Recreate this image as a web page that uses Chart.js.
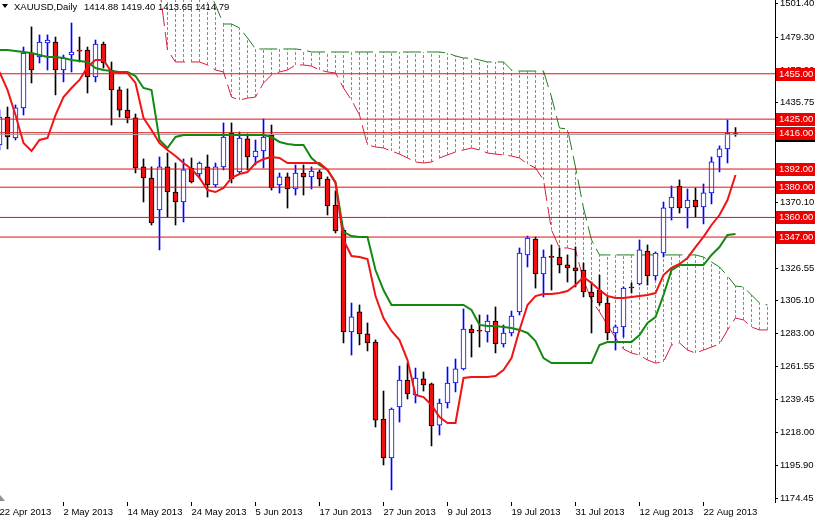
<!DOCTYPE html>
<html><head><meta charset="utf-8">
<script src="https://cdn.jsdelivr.net/npm/chart.js@4/dist/chart.umd.min.js"></script>
<style>html,body{margin:0;padding:0;background:#fff;overflow:hidden}</style>
</head><body>
<canvas id="c" width="815" height="518"></canvas>
<script>
const symbolTitle = 'XAUUSD,Daily';
const dateLabels = ['22 Apr 2013','2 May 2013','14 May 2013','24 May 2013','5 Jun 2013','17 Jun 2013','27 Jun 2013','9 Jul 2013','19 Jul 2013','31 Jul 2013','12 Aug 2013','22 Aug 2013'];
const dateLabelBars = [0,8,16,24,32,40,48,56,64,72,80,88];
const priceTicks = [1501.40,1479.30,1457.20,1435.75,1414.20,1392.10,1370.10,1348.00,1326.55,1305.10,1283.00,1261.55,1239.45,1218.00,1195.90,1174.45];
const levels = [1455,1425,1416,1392,1380,1360,1347];
const bidPrice = 1414.79;

const opens = [1407.9,1426.4,1412.5,1432.4,1468.7,1466.1,1475.4,1476.0,1457.5,1467.4,1470.3,1470.7,1452.9,1474.7,1457.5,1444.3,1431.0,1425.8,1393.4,1386.1,1364.9,1393.4,1376.8,1370.2,1392.7,1388.7,1393.4,1381.5,1393.4,1415.8,1390.1,1411.9,1400.0,1403.9,1414.5,1381.5,1386.8,1378.8,1389.4,1386.8,1390.1,1385.4,1368.2,1351.7,1284.3,1297.5,1283.0,1277.6,1226.7,1200.9,1234.7,1252.5,1242.6,1253.2,1249.9,1222.7,1237.3,1250.5,1259.8,1286.2,1284.9,1284.3,1291.5,1276.3,1283.6,1297.5,1335.2,1345.7,1322.6,1333.8,1333.8,1328.6,1326.6,1325.2,1310.7,1312.0,1303.4,1283.6,1287.6,1313.5,1316.0,1337.8,1321.3,1336.5,1366.3,1380.8,1366.3,1371.5,1366.9,1376.2,1400.0,1405.3,1414.88];
const highs = [1431.0,1433.0,1434.4,1472.7,1486.0,1480.7,1480.7,1479.3,1467.4,1488.6,1479.3,1472.7,1477.3,1476.0,1462.8,1446.3,1445.0,1428.4,1398.7,1393.4,1400.0,1402.6,1396.0,1398.7,1399.3,1396.7,1401.3,1396.0,1422.5,1422.5,1416.5,1415.2,1411.2,1425.1,1421.1,1389.4,1389.4,1394.7,1394.7,1393.4,1391.4,1386.8,1377.5,1353.0,1303.4,1302.1,1290.2,1279.0,1245.2,1234.0,1261.7,1263.7,1260.4,1257.8,1250.5,1239.9,1261.1,1266.4,1299.5,1288.9,1295.5,1295.5,1300.8,1288.9,1298.1,1339.8,1347.7,1347.1,1338.5,1341.8,1339.8,1335.2,1340.5,1329.9,1317.3,1321.9,1307.4,1288.9,1314.0,1316.7,1345.1,1341.8,1337.2,1370.2,1380.8,1384.8,1378.8,1379.5,1382.1,1400.0,1407.3,1424.4,1419.40];
const lows = [1404.6,1405.3,1411.2,1427.7,1448.9,1462.1,1457.5,1441.0,1449.6,1456.2,1462.8,1442.3,1449.6,1458.8,1421.1,1426.4,1422.5,1389.4,1370.2,1355.0,1338.5,1360.3,1355.0,1357.0,1382.8,1386.1,1373.5,1380.1,1391.4,1382.8,1389.4,1391.4,1394.7,1392.7,1378.1,1376.1,1366.2,1374.8,1374.8,1378.8,1380.8,1361.6,1349.7,1277.0,1269.0,1275.7,1271.7,1221.4,1196.3,1179.8,1224.7,1239.9,1237.3,1245.2,1208.9,1216.1,1234.0,1244.6,1259.1,1267.7,1274.3,1277.6,1270.4,1274.3,1281.6,1295.5,1327.2,1313.3,1307.4,1312.0,1323.3,1317.3,1314.0,1307.4,1283.6,1302.1,1279.0,1272.3,1280.9,1310.0,1315.3,1315.3,1318.6,1333.8,1358.3,1362.9,1353.0,1360.3,1355.7,1368.9,1390.1,1396.0,1413.65];
const closes = [1426.4,1413.2,1432.4,1468.7,1457.5,1476.0,1477.3,1457.5,1465.4,1469.4,1470.0,1452.9,1474.7,1462.1,1444.3,1431.0,1425.8,1392.7,1386.1,1356.3,1393.4,1376.8,1370.2,1391.4,1383.5,1396.0,1381.5,1393.4,1413.2,1385.4,1412.5,1400.0,1403.9,1413.2,1379.5,1386.8,1378.8,1389.4,1386.8,1390.7,1385.4,1367.6,1351.0,1284.3,1294.2,1283.0,1277.0,1226.0,1200.9,1233.3,1252.5,1243.3,1253.8,1249.2,1222.1,1237.3,1250.5,1259.8,1286.2,1283.6,1284.7,1291.5,1276.3,1283.6,1294.8,1336.5,1346.4,1322.6,1333.8,1333.6,1328.6,1326.6,1324.6,1310.7,1307.4,1303.4,1283.6,1287.6,1313.3,1313.3,1338.5,1321.3,1336.5,1366.3,1373.5,1366.3,1371.5,1366.9,1376.2,1396.7,1405.3,1415.8,1414.79];

const tenkan = [1456.2,1444.3,1427.7,1409.2,1403.9,1411.2,1412.5,1427.7,1439.6,1445.6,1450.9,1459.5,1464.1,1464.1,1456.2,1455.5,1455.5,1448.9,1425.8,1417.8,1409.2,1404.6,1400.6,1396.0,1392.0,1386.1,1378.1,1376.8,1379.5,1386.1,1388.7,1390.0,1396.0,1398.6,1400.0,1399.3,1396.0,1396.0,1396.0,1396.0,1396.0,1391.4,1382.8,1345.1,1334.5,1333.8,1332.5,1308.0,1293.5,1284.9,1278.9,1265.7,1242.6,1241.2,1236.0,1228.0,1224.1,1224.1,1253.8,1254.5,1254.5,1254.5,1255.1,1259.1,1267.0,1285.6,1302.1,1308.0,1309.4,1309.4,1310.0,1311.3,1315.3,1320.6,1316.6,1312.0,1308.0,1306.7,1306.7,1307.4,1308.0,1308.7,1310.0,1321.9,1326.6,1329.2,1333.2,1340.4,1347.1,1355.0,1361.6,1371.5,1388.1];
const kijun = [1470.7,1470.7,1470.0,1469.4,1468.7,1467.4,1466.1,1466.1,1465.4,1464.1,1463.4,1462.8,1458.8,1457.5,1456.8,1456.2,1456.2,1453.5,1445.6,1444.3,1411.2,1405.9,1413.2,1414.5,1414.5,1414.5,1414.5,1414.5,1414.5,1414.5,1414.5,1414.5,1414.5,1414.5,1413.2,1409.9,1408.6,1407.9,1407.9,1399.3,1394.7,1391.4,1383.4,1350.4,1347.7,1347.1,1347.1,1325.2,1312.0,1302.1,1302.1,1302.1,1302.1,1302.1,1302.1,1302.1,1302.1,1302.1,1302.1,1298.8,1288.9,1288.2,1288.2,1287.5,1286.9,1285.6,1283.6,1278.3,1267.0,1263.7,1263.7,1263.7,1263.7,1263.7,1263.7,1275.6,1277.6,1277.6,1277.6,1277.6,1282.2,1290.2,1294.1,1308.7,1325.2,1328.5,1328.5,1328.5,1328.5,1335.2,1340.4,1348.4,1349.0];
const senkouA = [1540,1540,1540,1540,1540,1540,1540,1540,1540,1540,1540,1540,1540,1540,1540,1540,1540,1540,1540,1540,1512,1470.7,1462.8,1462.8,1462.8,1462.8,1460.8,1457.5,1456.2,1439.6,1437.6,1438.9,1439.6,1448.9,1454.2,1456.2,1457.5,1460.8,1460.8,1460.1,1457.5,1456.2,1455.5,1445.6,1437.6,1427.7,1407.9,1406.6,1405.9,1403.9,1401.9,1399.3,1396.7,1396.0,1396.7,1399.3,1401.3,1403.3,1404.6,1405.9,1404.6,1402.6,1401.9,1401.3,1400.6,1399.3,1395.3,1392.7,1384.8,1351.7,1339.8,1339.8,1338.5,1318.6,1305.4,1297.5,1288.9,1280.3,1273.0,1270.3,1269.0,1265.7,1263.7,1264.4,1275.6,1277.0,1272.3,1270.3,1272.3,1274.3,1276.3,1285.6,1293.5,1292.2,1287.5,1285.6,1285.6];
const senkouB = [1560,1560,1560,1560,1560,1560,1560,1560,1560,1560,1560,1560,1560,1560,1560,1560,1560,1560,1560,1560,1560,1560,1560,1560,1560,1560,1512,1500.5,1487.9,1487.9,1485.3,1478.7,1471.4,1471.4,1471.4,1471.4,1471.4,1471.4,1470.7,1469.4,1469.4,1469.4,1469.4,1469.4,1469.4,1469.4,1469.4,1469.4,1469.4,1469.4,1469.4,1469.4,1469.4,1469.4,1469.4,1469.4,1468.7,1466.8,1465.4,1465.4,1464.1,1462.8,1462.8,1462.8,1457.5,1456.8,1456.8,1456.8,1456.8,1439.6,1419.1,1418.5,1393.3,1366.2,1345.1,1335.2,1335.2,1335.2,1335.2,1335.2,1335.2,1335.2,1335.2,1335.2,1335.2,1335.2,1335.2,1335.2,1333.8,1330.5,1327.2,1321.3,1314.6,1314.0,1308.7,1303.4,1302.1];

const X_MIN = 0.0625, X_MAX = X_MIN + 775/8;
const Y_MAX = 1503.78, Y_MIN = Y_MAX - 502*0.66129;

const bars = opens.map((o,i)=>i);
const isBull = i => closes[i] > opens[i];

const hatch = [];
senkouA.forEach((a,i)=>{ hatch.push({x:i,y:a},{x:i,y:senkouB[i]},{x:i,y:null}); });

const lineDs = (label, arr, color, width, order, dash) => ({
  type:'line', label, data: arr.map((v,i)=>({x:i,y:v})), borderColor:color, borderWidth:width,
  pointRadius:0, tension:0, fill:false, order, borderDash: dash||[], spanGaps:false
});
const levelDs = (lv, color, order) => ({
  type:'line', data:[{x:X_MIN,y:lv},{x:X_MAX,y:lv}], borderColor:color, borderWidth:1,
  pointRadius:0, fill:false, order
});

const datasets = [
  {type:'line', label:'cloud', data:hatch, borderColor:'rgb(240,105,50)', backgroundColor:'rgb(240,105,50)', borderWidth:1, borderDash:[3,2], pointRadius:0, spanGaps:false, order:30},
  lineDs('senkouA', senkouA, '#D81E3C', 1, 25, [18,6]),
  lineDs('senkouB', senkouB, '#1E7D1E', 1, 25, [18,6]),
  {type:'bar', label:'wicks', data: bars.map(i=>({x:i,y:[lows[i],highs[i]]})), backgroundColor: bars.map(i=>isBull(i)?'#0000FF':'#000000'), barThickness:1, grouped:false, order:20},
  {type:'bar', label:'bodies', data: bars.map(i=>({x:i,y:[opens[i],closes[i]]})), backgroundColor: bars.map(i=>isBull(i)?'#FFFFFF':'#EE1111'), borderColor: bars.map(i=>isBull(i)?'#0000FF':'#000000'), borderWidth:1, borderSkipped:false, barThickness:5, minBarLength:1, grouped:false, order:19},
  levelDs(bidPrice, '#A0A0A0', 12),
  ...levels.map(l=>levelDs(l, '#E01010', 11)),
  lineDs('kijun', kijun, '#128A12', 2, 2),
  lineDs('tenkan', tenkan, '#F01414', 2, 1)
];

const overlay = {
  id:'overlay',
  afterDraw(chart){
    const ctx = chart.ctx, ys = chart.scales.y;
    ctx.save();
    ctx.font = '9.5px "Liberation Sans", Arial, sans-serif';
    ctx.textBaseline = 'middle'; ctx.textAlign = 'left';
    const box = (val,bg) => {
      const py = Math.round(ys.getPixelForValue(val));
      ctx.fillStyle = bg; ctx.fillRect(776, py-6, 39, 13);
      ctx.fillStyle = '#FFFFFF'; ctx.fillText(val.toFixed(2), 779, py+0.5);
    };
    box(bidPrice, '#000000');
    levels.forEach(l => box(l, '#EE0000'));
    ctx.fillStyle = '#000000';
    const last = opens.length-1;
    ctx.fillText(symbolTitle, 14, 7);
    ctx.fillText([opens[last],highs[last],lows[last],closes[last]].map(v=>v.toFixed(2)).join(' '), 84, 7);
    ctx.beginPath(); ctx.moveTo(2,4); ctx.lineTo(8,4); ctx.lineTo(5,8); ctx.closePath(); ctx.fill();
    ctx.fillStyle = '#909090';
    ctx.beginPath(); ctx.moveTo(0,495); ctx.lineTo(5,501); ctx.lineTo(0,501); ctx.closePath(); ctx.fill();
    ctx.restore();
  }
};

new Chart(document.getElementById('c'), {
  data:{datasets},
  options:{
    responsive:false, animation:false, devicePixelRatio:1,
    layout:{padding:0},
    plugins:{legend:{display:false}, tooltip:{enabled:false}},
    scales:{
      x:{type:'linear', position:'bottom', min:X_MIN, max:X_MAX, offset:false,
        afterBuildTicks: s => { s.ticks = dateLabelBars.map(v=>({value:v})); },
        afterFit: s => { s.height = 16; s.paddingLeft = 0; s.paddingRight = 0; },
        ticks:{autoSkip:false, maxRotation:0, align:'start', padding:1, color:'#000',
          font:{family:'"Liberation Sans", Arial, sans-serif', size:9.5},
          callback:(v,idx)=>dateLabels[idx]},
        grid:{offset:false, drawOnChartArea:false, tickLength:4, color:'#000'},
        border:{display:false}
      },
      y:{type:'linear', position:'right', min:Y_MIN, max:Y_MAX,
        afterBuildTicks: s => { s.ticks = priceTicks.map(v=>({value:v})); },
        afterFit: s => { s.width = 40; s.paddingTop = 0; s.paddingBottom = 0; },
        ticks:{autoSkip:false, padding:2, color:'#000',
          font:{family:'"Liberation Sans", Arial, sans-serif', size:9.5},
          callback:v=>Number(v).toFixed(2)},
        grid:{drawOnChartArea:false, tickLength:3, color:'#000'},
        border:{color:'#000'}
      }
    }
  },
  plugins:[overlay]
});
</script>
</body></html>
